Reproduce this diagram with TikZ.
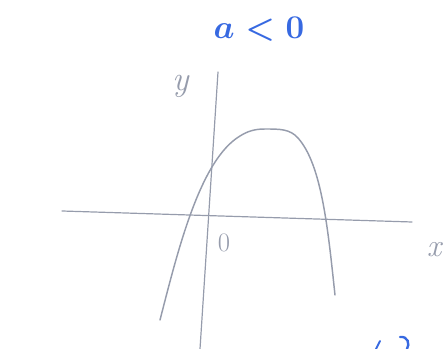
\documentclass[tikz,border=0pt]{standalone}
\usepackage{amsmath}
\usetikzlibrary{calc}
\definecolor{penGray}{RGB}{150,156,172}
\definecolor{penBlue}{RGB}{55,105,225}
\tikzset{
    curve/.style={
        draw=penGray,
        line width=1.1pt,
        line cap=round
    },
    axis/.style={
        draw=penGray,
        line width=0.9pt,
        line cap=round
    },
    label/.style={
        text=penGray,
        inner sep=0pt
    }
}

\begin{document}
\begin{tikzpicture}[x=0.75pt, y=-0.75pt,
    % Defining style for the blue note above the sketch
    note/.style={
        text=penBlue,
        font=\sffamily\fontsize{30}{30}\selectfont,
        inner sep=0pt
    }
]
    \useasboundingbox (0,0) rectangle (444,349);

    % Axes
    \coordinate (xl) at (62,211);
    \coordinate (xr) at (412,222);
    \coordinate (yt) at (218,72);
    \coordinate (yb) at (200,349);
    \draw[axis] (xl) -- (xr);
    \draw[axis] (yt) -- (yb);

    % Labels of the axes
    \node[label, font=\fontsize{26}{26}\selectfont\itshape] (ylab) at (181,86) {y};
    \node[label, font=\fontsize{20}{20}\selectfont] (zero) at (224,243) {0};
    \node[label, font=\fontsize{24}{24}\selectfont\itshape] (xlab) at (434,250) {x};

    % The parabola, opening downwards
    \coordinate (pl) at (160,320);
    \coordinate (pv) at (265,129);
    \coordinate (pr) at (335,295);
    \draw[curve] (pl) .. controls (178,250) and (200,160) .. (240,136)
        .. controls (248,131) and (255,129) .. (pv)
        .. controls (280,129) and (290,129) .. (298,138)
        .. controls (322,165) and (328,230) .. (pr);

    % Condition written above
    \node[note] (cond) at (259,29) {$\boldsymbol{a<0}$};

    % Blue strokes cut off at the bottom edge
    \draw[draw=penBlue, line width=1.4pt, line cap=round] (376,349) -- (380,341);
    \draw[draw=penBlue, line width=1.8pt, line cap=round] (400,337) .. controls (408,336) and (410,344) .. (407,349);
\end{tikzpicture}
\end{document}
